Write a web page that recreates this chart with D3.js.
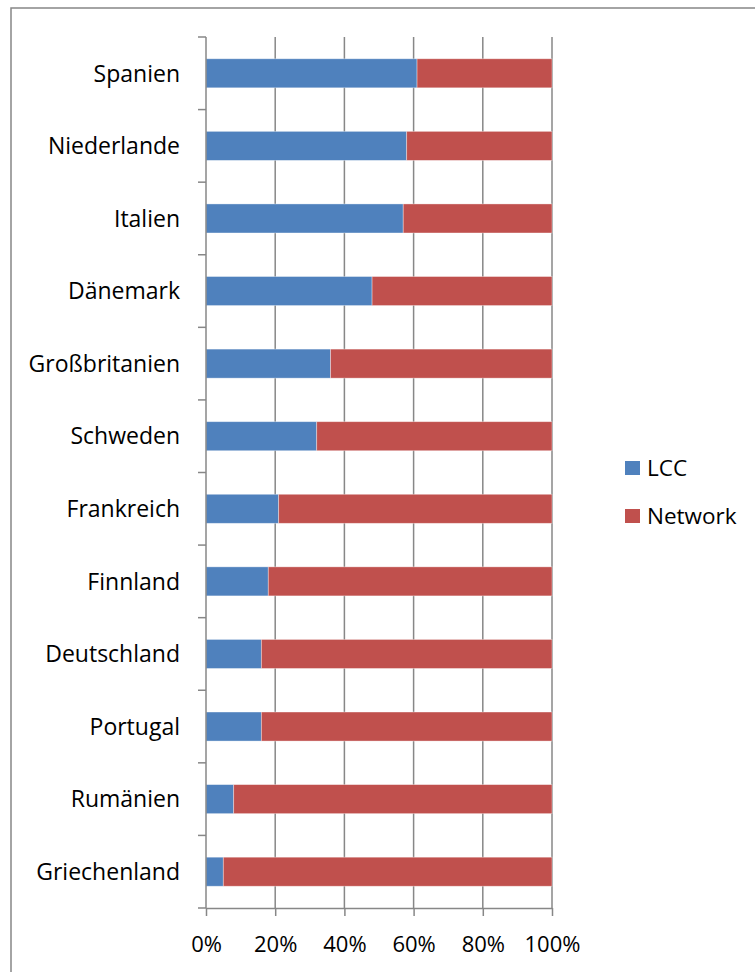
<!DOCTYPE html>
<html>
<head>
<meta charset="utf-8">
<script src="https://cdn.jsdelivr.net/npm/d3@7"></script>
<style>
  html, body { margin: 0; padding: 0; background: #fff; }
  svg { display: block; }
  text { font-family: "Open Sans", "Noto Sans", sans-serif; fill: #000; }
</style>
</head>
<body>
<svg id="chart" width="755" height="972"></svg>
<script>
// Share of low-cost carriers (LCC) vs. network carriers per country, in percent
const countries = ["Spanien", "Niederlande", "Italien", "Dänemark", "Großbritanien", "Schweden",
                   "Frankreich", "Finnland", "Deutschland", "Portugal", "Rumänien", "Griechenland"];
const lcc     = [61, 58, 57, 48, 36, 32, 21, 18, 16, 16, 8, 5];
const network = [39, 42, 43, 52, 64, 68, 79, 82, 84, 84, 92, 95];
const seriesNames  = ["LCC", "Network"];
const seriesColors = ["#4F81BD", "#C0504D"];
const xTicks = [0, 0.2, 0.4, 0.6, 0.8, 1];

const svg = d3.select("#chart");
const gridColor = "#878787";

// chart frame
svg.append("rect")
  .attr("x", 11).attr("y", 8)
  .attr("width", 800).attr("height", 1000)
  .attr("fill", "none")
  .attr("stroke", gridColor)
  .attr("stroke-width", 1.5);

const plot = { left: 206, right: 552, top: 37, bottom: 908 };

const x = d3.scaleLinear().domain([0, 1]).range([plot.left, plot.right]);
const y = d3.scaleBand().domain(countries)
  .range([plot.top, plot.bottom])
  .paddingInner(0.6).paddingOuter(0.3);

// vertical gridlines
svg.append("g")
  .selectAll("line")
  .data(xTicks.slice(1))
  .join("line")
  .attr("x1", d => x(d)).attr("x2", d => x(d))
  .attr("y1", plot.top).attr("y2", plot.bottom)
  .attr("stroke", gridColor).attr("stroke-width", 1.5);

// stacked bars (normalised to 100%)
const rows = countries.map((c, i) => {
  const total = lcc[i] + network[i];
  return { country: c, LCC: lcc[i] / total, Network: network[i] / total };
});
const stack = d3.stack().keys(seriesNames)(rows);

svg.append("g")
  .selectAll("g")
  .data(stack)
  .join("g")
  .attr("fill", (d, i) => seriesColors[i])
  .selectAll("rect")
  .data(d => d)
  .join("rect")
  .attr("x", d => x(d[0]))
  .attr("width", d => x(d[1]) - x(d[0]))
  .attr("y", d => y(d.data.country))
  .attr("height", y.bandwidth())
  .attr("stroke", "#ffffff")
  .attr("stroke-opacity", 0.45)
  .attr("stroke-width", 0.8);

// bottom axis
const xAxis = d3.axisBottom(x)
  .tickValues(xTicks)
  .tickFormat(d3.format(".0%"))
  .tickSizeInner(8).tickSizeOuter(0).tickPadding(20);

const gx = svg.append("g")
  .attr("transform", `translate(0,${plot.bottom})`)
  .call(xAxis);
gx.select(".domain").attr("stroke", gridColor).attr("stroke-width", 1.5);
gx.selectAll(".tick line").attr("stroke", gridColor).attr("stroke-width", 1.5);
gx.selectAll(".tick text")
  .attr("font-size", 22)
  .attr("font-family", "Open Sans")
  .attr("fill", "#000")
  .attr("dy", "0.71em");

// left axis: line with ticks between categories
const gy = svg.append("g");
gy.append("line")
  .attr("x1", plot.left).attr("x2", plot.left)
  .attr("y1", plot.top).attr("y2", plot.bottom)
  .attr("stroke", gridColor).attr("stroke-width", 1.5);
const boundaries = d3.range(countries.length + 1).map(i => plot.top + i * y.step());
gy.selectAll("line.tick")
  .data(boundaries)
  .join("line")
  .attr("class", "tick")
  .attr("x1", plot.left - 8).attr("x2", plot.left)
  .attr("y1", d => d).attr("y2", d => d)
  .attr("stroke", gridColor).attr("stroke-width", 1.5);
gy.selectAll("text")
  .data(countries)
  .join("text")
  .attr("x", 180)
  .attr("y", d => y(d) + y.bandwidth() / 2)
  .attr("dy", "0.36em")
  .attr("text-anchor", "end")
  .attr("font-size", 23)
  .text(d => d);

// legend
const legend = svg.append("g")
  .selectAll("g")
  .data(seriesNames)
  .join("g")
  .attr("transform", (d, i) => `translate(625,${461 + i * 48})`);
legend.append("rect")
  .attr("width", 15).attr("height", 14)
  .attr("fill", (d, i) => seriesColors[i]);
legend.append("text")
  .attr("x", 22).attr("y", 7)
  .attr("dy", "0.36em")
  .attr("font-size", 22.5)
  .text(d => d);
</script>
</body>
</html>
